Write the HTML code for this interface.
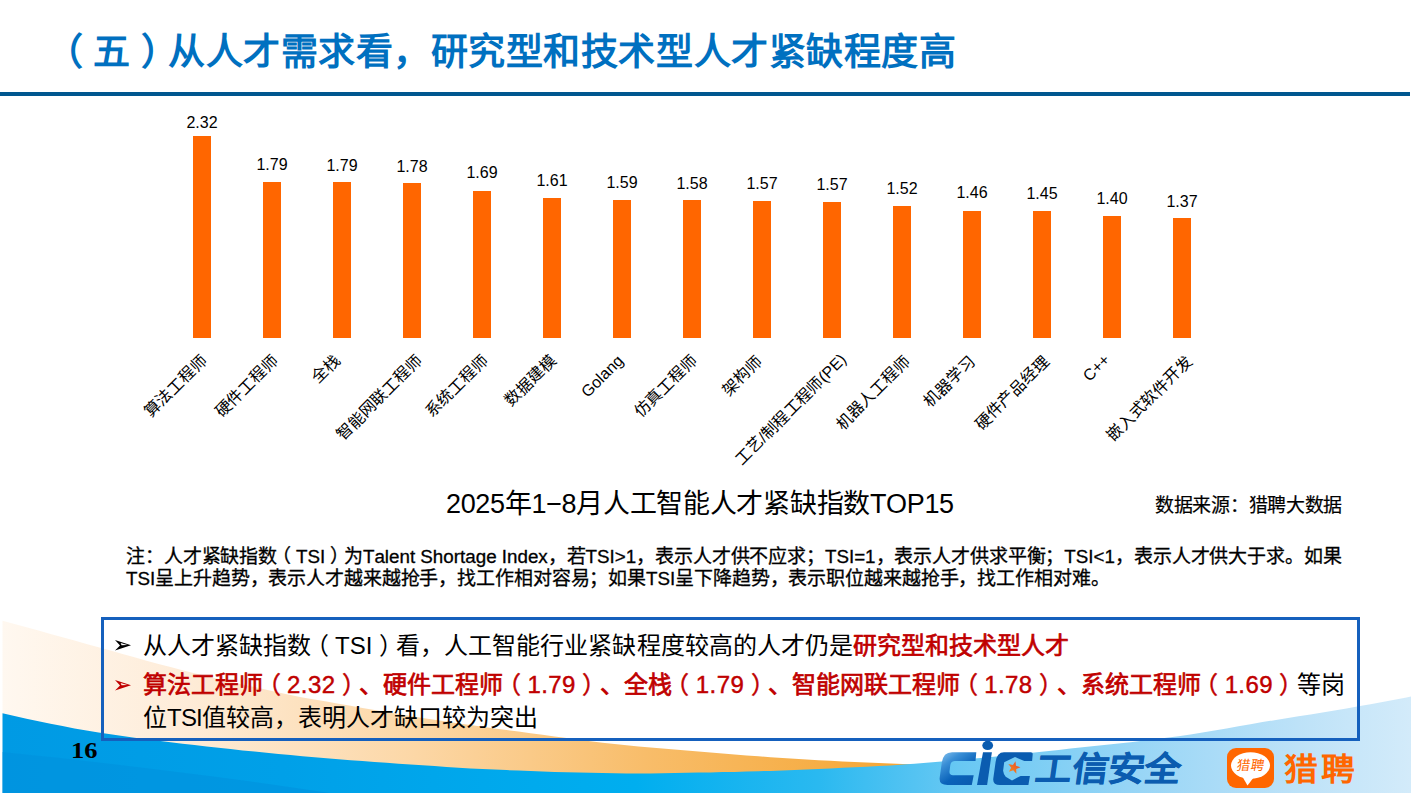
<!DOCTYPE html>
<html lang="zh-CN"><head><meta charset="utf-8"><title>slide 16</title>
<style>
html,body{margin:0;padding:0;background:#fff;}
body{width:1411px;height:793px;position:relative;overflow:hidden;font-family:"Liberation Sans",sans-serif;color:#000;text-spacing-trim:space-all;font-kerning:none;}
.abs{position:absolute;white-space:nowrap;}
#bg{position:absolute;left:0;top:0;}
#title{left:55.8px;top:27.5px;font-size:37px;letter-spacing:0.5px;line-height:50px;font-weight:bold;color:#0070c0;}
#rule{position:absolute;left:0;top:92px;width:1410px;height:4px;background:#00578f;}
.bar{position:absolute;width:18px;background:#ff6600;}
.val{position:absolute;width:60px;text-align:center;font-size:16px;line-height:18px;white-space:nowrap;}
.xl{position:absolute;white-space:nowrap;font-size:16px;line-height:20px;height:20px;transform-origin:100% 50%;transform:rotate(-45deg);}
#ctitle{left:447px;top:488px;font-size:27px;letter-spacing:-0.33px;line-height:32px;}
#src{left:1155px;top:494.5px;-webkit-text-stroke:0.2px #000;font-size:19px;letter-spacing:-0.33px;line-height:22px;}
.note{position:absolute;white-space:nowrap;left:126px;font-size:19px;letter-spacing:-0.13px;line-height:21.7px;-webkit-text-stroke:0.3px #000;}
.note .lt{font-size:18.8px;letter-spacing:0;}
#box{position:absolute;left:101px;top:617px;width:1253px;height:118px;border:3px solid #1560bd;}
.bl{position:absolute;left:143px;font-size:24px;line-height:34px;white-space:nowrap;}
.bu{position:absolute;left:114px;font-size:20px;line-height:34px;}
.red{color:#c00000;font-weight:normal;-webkit-text-stroke:0.7px #c00000;}
.pl{position:relative;left:-0.27em;}
.pr{position:relative;left:0.27em;}
.red .pl,.red .pr,.red .n{font-weight:normal;-webkit-text-stroke:0.45px #c00000;}
.n{letter-spacing:0.4px;}
.t{letter-spacing:-0.8px;}
#pn{left:70.7px;top:738.3px;font-family:"Liberation Serif",serif;font-weight:bold;font-size:23px;line-height:26px;transform:scaleX(1.15);transform-origin:0 50%;}
#gx{left:1033.3px;top:749px;font-size:34px;line-height:40px;font-weight:900;color:#0b5cb0;letter-spacing:0px;-webkit-text-stroke:0.5px #0b5cb0;transform:skewX(-8deg) scaleX(1.068);transform-origin:0 100%;}
.j{text-align:justify;text-align-last:justify;}
#title{width:900.3px;}
#j1{width:80.3px;}
#j2{width:80.3px;}
#j3{width:32.3px;}
#j4{width:112.3px;}
#j5{width:80.3px;}
#j6{width:64.3px;}
#j7{width:51.9px;}
#j8{width:80.3px;}
#j9{width:48.3px;}
#j10{width:148.8px;}
#j11{width:96.3px;}
#j12{width:64.3px;}
#j13{width:96.3px;}
#j14{width:30.6px;}
#j15{width:112.3px;}
#ctitle{left:446.0px;width:507.8px;}
#src{width:187.0px;}
#j16{width:1215.5px;}
#j17{width:983.4px;}
#j18{width:925.6px;}
#j19{width:1201.9px;}
#j20{width:395.2px;}
#gx{width:136.3px;}
#lp{width:68.1px;}
#lp{left:1283.5px;top:749.5px;font-size:31px;line-height:40px;font-weight:bold;color:#ff6600;letter-spacing:2.9px;transform:scaleX(1.09);transform-origin:0 50%;}
</style></head><body>
<svg id="bg" width="1411" height="793" viewBox="0 0 1411 793">
<defs>
<linearGradient id="go" x1="0" y1="0" x2="1" y2="0"><stop offset="0" stop-color="#fff8f0"/><stop offset="0.2" stop-color="#feecd8"/><stop offset="0.45" stop-color="#fcd7a6"/><stop offset="0.7" stop-color="#f8bd6a"/><stop offset="1" stop-color="#f5a531"/></linearGradient>
<linearGradient id="gb" gradientUnits="userSpaceOnUse" x1="0" y1="0" x2="1411" y2="0"><stop offset="0" stop-color="#009ae4"/><stop offset="0.2" stop-color="#00a0e8"/><stop offset="0.45" stop-color="#00aeef"/><stop offset="0.58" stop-color="#2ab9f0"/><stop offset="0.68" stop-color="#68c8f3"/><stop offset="0.8" stop-color="#96d5f6"/><stop offset="0.92" stop-color="#bde2f8"/><stop offset="1" stop-color="#d3ebfa"/></linearGradient>
</defs>
<path d="M2.5,800 L2.5,620.7 L14.5,624.0 L26.5,627.3 L38.5,630.6 L50.5,633.9 L62.5,637.2 L74.5,640.6 L86.5,643.9 L98.5,647.2 L110.5,650.5 L122.5,653.9 L134.5,657.3 L146.5,660.7 L158.5,664.0 L170.5,667.1 L182.5,670.2 L194.5,673.2 L206.5,676.1 L218.5,678.9 L230.5,681.7 L242.5,684.5 L254.5,687.1 L266.5,689.7 L278.5,692.4 L290.5,695.0 L302.5,697.4 L314.5,699.6 L326.5,701.6 L338.5,703.7 L350.5,705.7 L362.5,707.9 L374.5,710.0 L386.5,712.1 L398.5,714.1 L410.5,716.1 L422.5,718.0 L434.5,719.8 L446.5,721.6 L458.5,723.4 L470.5,725.1 L482.5,726.8 L494.5,728.4 L506.5,730.0 L518.5,731.6 L530.5,733.2 L542.5,734.8 L554.5,736.4 L566.5,738.0 L578.5,739.6 L590.5,741.2 L602.5,742.7 L614.5,744.0 L626.5,745.2 L638.5,746.4 L650.5,747.5 L662.5,748.5 L674.5,749.6 L686.5,750.5 L698.5,751.5 L710.5,752.5 L722.5,753.5 L734.5,754.4 L746.5,755.4 L758.5,756.3 L770.5,757.2 L782.5,758.1 L794.5,758.8 L806.5,759.5 L818.5,760.2 L830.5,760.8 L842.5,761.4 L854.5,761.9 L866.5,762.4 L878.5,762.9 L890.5,763.4 L902.5,763.9 L914.5,764.3 L920.0,764.5 L920,800 Z" fill="url(#go)"/>
<path d="M2.5,793 L2.5,713.2 L14.5,716.0 L26.5,718.7 L38.5,721.2 L50.5,723.7 L62.5,726.1 L74.5,728.4 L86.5,730.5 L98.5,732.5 L110.5,734.3 L122.5,736.1 L134.5,737.7 L146.5,739.3 L158.5,740.8 L170.5,742.3 L182.5,743.7 L194.5,745.1 L206.5,746.4 L218.5,747.8 L230.5,749.1 L242.5,750.4 L254.5,751.6 L266.5,752.8 L278.5,754.0 L290.5,755.1 L302.5,756.2 L314.5,757.3 L326.5,758.3 L338.5,759.2 L350.5,760.2 L362.5,761.1 L374.5,762.0 L386.5,762.8 L398.5,763.7 L410.5,764.5 L422.5,765.3 L434.5,766.1 L446.5,766.9 L458.5,767.7 L470.5,768.4 L482.5,769.0 L494.5,769.6 L506.5,770.1 L518.5,770.6 L530.5,771.1 L542.5,771.5 L554.5,771.9 L566.5,772.3 L578.5,772.6 L590.5,772.8 L602.5,773.1 L614.5,773.3 L626.5,773.4 L638.5,773.5 L650.5,773.4 L662.5,773.2 L674.5,773.0 L686.5,772.8 L698.5,772.6 L710.5,772.4 L722.5,772.1 L734.5,771.9 L746.5,771.6 L758.5,771.2 L770.5,770.9 L782.5,770.4 L794.5,769.9 L806.5,769.4 L818.5,768.9 L830.5,768.4 L842.5,767.8 L854.5,767.3 L866.5,766.7 L878.5,766.1 L890.5,765.4 L902.5,764.6 L914.5,763.7 L926.5,762.7 L938.5,761.7 L950.5,760.7 L962.5,759.7 L974.5,758.6 L986.5,757.5 L998.5,756.3 L1010.5,755.0 L1022.5,753.8 L1034.5,752.5 L1046.5,751.2 L1058.5,749.9 L1070.5,748.6 L1082.5,747.3 L1094.5,746.1 L1106.5,744.8 L1118.5,743.5 L1130.5,742.2 L1142.5,740.8 L1154.5,739.3 L1166.5,737.8 L1178.5,736.2 L1190.5,734.5 L1202.5,732.6 L1214.5,730.6 L1226.5,728.5 L1238.5,726.3 L1250.5,724.2 L1262.5,722.1 L1274.5,720.2 L1286.5,718.2 L1298.5,716.3 L1310.5,714.4 L1322.5,712.4 L1334.5,710.4 L1346.5,708.4 L1358.5,706.3 L1370.5,704.2 L1382.5,702.0 L1394.5,699.7 L1406.5,697.4 L1411.0,696.5 L1411,793 Z" fill="url(#gb)"/>
<path d="M2.5,752 C120,764 230,778 330,793 L2.5,793 Z" fill="#0090dc" opacity="0.55"/>
</svg>
<div id="title" class="abs j"><span class="pl">（</span>五<span class="pr">）</span>从人才需求看，研究型和技术型人才紧缺程度高</div>
<div id="rule"></div>
<div class="bar" style="left:193px;top:136px;height:202px"></div>
<div class="bar" style="left:263px;top:182px;height:156px"></div>
<div class="bar" style="left:333px;top:182px;height:156px"></div>
<div class="bar" style="left:403px;top:183px;height:155px"></div>
<div class="bar" style="left:473px;top:191px;height:147px"></div>
<div class="bar" style="left:543px;top:198px;height:140px"></div>
<div class="bar" style="left:613px;top:200px;height:138px"></div>
<div class="bar" style="left:683px;top:200px;height:138px"></div>
<div class="bar" style="left:753px;top:201px;height:137px"></div>
<div class="bar" style="left:823px;top:202px;height:136px"></div>
<div class="bar" style="left:893px;top:206px;height:132px"></div>
<div class="bar" style="left:963px;top:211px;height:127px"></div>
<div class="bar" style="left:1033px;top:211px;height:127px"></div>
<div class="bar" style="left:1103px;top:216px;height:122px"></div>
<div class="bar" style="left:1173px;top:218px;height:120px"></div>
<div class="val" style="left:172px;top:114px">2.32</div>
<div class="val" style="left:242px;top:156px">1.79</div>
<div class="val" style="left:312px;top:157px">1.79</div>
<div class="val" style="left:382px;top:158px">1.78</div>
<div class="val" style="left:452px;top:164px">1.69</div>
<div class="val" style="left:522px;top:172px">1.61</div>
<div class="val" style="left:592px;top:174px">1.59</div>
<div class="val" style="left:662px;top:175px">1.58</div>
<div class="val" style="left:732px;top:175px">1.57</div>
<div class="val" style="left:802px;top:176px">1.57</div>
<div class="val" style="left:872px;top:180px">1.52</div>
<div class="val" style="left:942px;top:184px">1.46</div>
<div class="val" style="left:1012px;top:185px">1.45</div>
<div class="val" style="left:1082px;top:190px">1.40</div>
<div class="val" style="left:1152px;top:193px">1.37</div>
<div id="j1" class="xl j" style="right:1206.9px;top:348.2px">算法工程师</div>
<div id="j2" class="xl j" style="right:1135.9px;top:347.7px">硬件工程师</div>
<div id="j3" class="xl j" style="right:1073.5px;top:348.2px">全栈</div>
<div id="j4" class="xl j" style="right:991.5px;top:347.7px">智能网联工程师</div>
<div id="j5" class="xl j" style="right:926.2px;top:347.9px">系统工程师</div>
<div id="j6" class="xl j" style="right:857.9px;top:348.1px">数据建模</div>
<div id="j7" class="xl j" style="right:790.5px;top:347.8px">Golang</div>
<div id="j8" class="xl j" style="right:717.1px;top:348.1px">仿真工程师</div>
<div id="j9" class="xl j" style="right:651.4px;top:348.9px">架构师</div>
<div id="j10" class="xl j" style="right:566.9px;top:346.5px">工艺/制程工程师(PE)</div>
<div id="j11" class="xl j" style="right:504.0px;top:349.1px">机器人工程师</div>
<div id="j12" class="xl j" style="right:439.0px;top:348.7px">机器学习</div>
<div id="j13" class="xl j" style="right:364.7px;top:348.7px">硬件产品经理</div>
<div id="j14" class="xl j" style="right:303.5px;top:347.3px">C++</div>
<div id="j15" class="xl j" style="right:221.3px;top:348.6px">嵌入式软件开发</div>
<div id="ctitle" class="abs j">2025年1−8月人工智能人才紧缺指数TOP15</div>
<div id="src" class="abs j">数据来源：猎聘大数据</div>
<div id="j16" class="note j" style="top:546px">注：人才紧缺指数<span class="pl">（</span><span class="lt">TSI</span><span class="pr">）</span>为<span class="lt">Talent Shortage Index</span>，若<span class="lt">TSI&gt;1</span>，表示人才供不应求；<span class="lt">TSI=1</span>，表示人才供求平衡；<span class="lt">TSI&lt;1</span>，表示人才供大于求。如果</div>
<div id="j17" class="note j" style="top:567.7px"><span class="lt">TSI</span>呈上升趋势，表示人才越来越抢手，找工作相对容易；如果<span class="lt">TSI</span>呈下降趋势，表示职位越来越抢手，找工作相对难。</div>
<div id="box"></div>
<svg class="abs" style="left:115px;top:640.2px" width="16" height="10.5" viewBox="0 0 16 10.5"><path fill="#000" fill-rule="evenodd" d="M0,0 L16,5.2 L0,10.5 L5,5.4 Z M5.6,2.9 L12.4,5.1 L6.6,5.2 Z"/></svg>
<div id="j18" class="bl j" style="top:629px">从人才紧缺指数<span class="pl">（</span>TSI<span class="pr">）</span>看，人工智能行业紧缺程度较高的人才仍是<span class="red">研究型和技术型人才</span></div>
<svg class="abs" style="left:115px;top:680.2px" width="16" height="10.5" viewBox="0 0 16 10.5"><path fill="#c00000" fill-rule="evenodd" d="M0,0 L16,5.2 L0,10.5 L5,5.4 Z M5.6,2.9 L12.4,5.1 L6.6,5.2 Z"/></svg>
<div id="j19" class="bl j" style="top:667.5px"><span class="red">算法工程师<span class="pl">（</span><span class="n">2.32</span><span class="pr">）</span>、硬件工程师<span class="pl">（</span><span class="n">1.79</span><span class="pr">）</span>、全栈<span class="pl">（</span><span class="n">1.79</span><span class="pr">）</span>、智能网联工程师<span class="pl">（</span><span class="n">1.78</span><span class="pr">）</span>、系统工程师<span class="pl">（</span><span class="n">1.69</span><span class="pr">）</span></span>等岗</div>
<div id="j20" class="bl j" style="top:701px">位<span class="t">TSI</span>值较高，表明人才缺口较为突出</div>
<div id="pn" class="abs">16</div>
<svg class="abs" style="left:936px;top:738px" width="100" height="50" viewBox="0 0 100 50">
<defs><linearGradient id="gc" x1="0" y1="0" x2="0.8" y2="1"><stop offset="0" stop-color="#8cc6f0"/><stop offset="0.3" stop-color="#3a8fd6"/><stop offset="0.65" stop-color="#0a63ba"/><stop offset="1" stop-color="#0a5cb0"/></linearGradient>
<linearGradient id="gs" x1="0" y1="1" x2="1" y2="0"><stop offset="0" stop-color="#f7941d"/><stop offset="1" stop-color="#e8412a"/></linearGradient></defs>
<path d="M16,14.14 H40.3 L39.5,23.07 H19 Q14.9,23.07 14.3,27 L13.5,33.2 Q13,37.2 17,37.2 H37.7 L35.8,46.9 H11.5 Q2.6,46.9 3.7,39.5 L5.8,24.5 Q7.2,14.14 16,14.14 Z" fill="url(#gc)"/>
<path d="M47,14.14 H55.9 L51.1,46.9 H41 Z" fill="#0a5cb0"/>
<ellipse cx="51.7" cy="7.44" rx="5.4" ry="4.6" fill="#0a5cb0"/>
<path d="M68,14.14 H94.8 Q96.9,14.14 96.7,16.2 L96.1,23.07 H88.3 L79,18.97 L68.2,24.2 L67.1,32.7 Q67.6,36.5 69.7,38.7 L76,42.4 L84.6,37.95 H93.9 L92.4,46.9 H64 Q56.5,46.9 57.3,40.5 L59.6,24 Q60.8,14.14 68,14.14 Z" fill="#0a5cb0"/>
<polygon points="79.50,23.20 79.97,27.86 84.48,29.14 80.19,31.03 80.37,35.72 77.25,32.22 72.84,33.84 75.21,29.79 72.30,26.10 76.89,27.10" fill="url(#gs)"/>
</svg>
<div id="gx" class="abs j">工信安全</div>
<svg class="abs" style="left:1227px;top:747.5px" width="48" height="41" viewBox="0 0 48 41">
<rect x="0" y="0" width="47" height="40" rx="9" ry="9" fill="#ff6600"/>
<ellipse cx="23.5" cy="17.5" rx="19.5" ry="13.3" fill="#fff"/>
<path d="M15,28 L20.5,37.5 L27,29 Z" fill="#fff"/>
<text x="27.3" y="22.3" font-family="Liberation Sans, sans-serif" font-size="13.5" font-weight="500" fill="#ff6600" text-anchor="middle" transform="skewX(-10)" style="font-kerning:none">猎聘</text>
</svg>
<div id="lp" class="abs j">猎聘</div>
</body></html>
